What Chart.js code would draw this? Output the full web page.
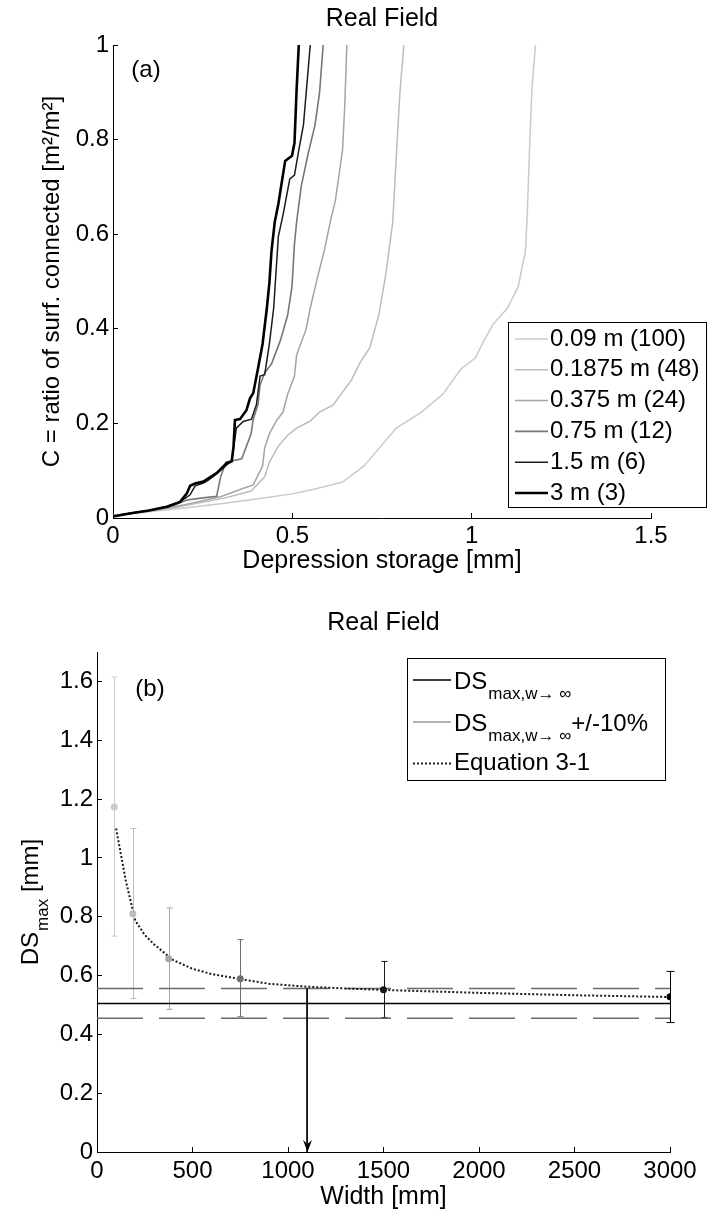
<!DOCTYPE html>
<html>
<head>
<meta charset="utf-8">
<script src="https://cdn.jsdelivr.net/npm/chart.js@4.4.1/dist/chart.umd.min.js"></script>
<style>
  body { margin: 0; background: #fff; }
  #wrap { position: relative; width: 710px; height: 1213px; }
  #storage { position: absolute; left: 0; top: 0; }
  #widthPlot { position: absolute; left: 0; top: 590px; }
</style>
</head>
<body>
<div id="wrap">
  <canvas id="storage" width="710" height="590"></canvas>
  <canvas id="widthPlot" width="710" height="623"></canvas>
</div>
<script>
// ---- panel (a): connected ratio vs depression storage, one curve per cell width ----
const seriesLabels = ['0.09 m (100)', '0.1875 m (48)', '0.375 m (24)', '0.75 m (12)', '1.5 m (6)', '3 m (3)'];
const seriesColors = ['#cacaca', '#bcbcbc', '#a4a4a4', '#777777', '#1c1c1c', '#000000'];
const seriesWidths = [1.5, 1.5, 1.5, 1.6, 1.5, 2.6];

const ds009 = [0, 0.10, 0.20, 0.30, 0.40, 0.50, 0.56, 0.64, 0.70, 0.73, 0.79, 0.86, 0.92, 0.97, 1.01, 1.035, 1.06, 1.10, 1.13, 1.15, 1.155, 1.162, 1.168, 1.178];
const c009  = [0.005, 0.013, 0.021, 0.030, 0.040, 0.051, 0.061, 0.076, 0.11, 0.137, 0.19, 0.224, 0.262, 0.315, 0.338, 0.376, 0.41, 0.444, 0.489, 0.565, 0.641, 0.793, 0.907, 1.0];

const ds01875 = [0, 0.10, 0.18, 0.31, 0.385, 0.423, 0.436, 0.461, 0.487, 0.512, 0.55, 0.576, 0.614, 0.64, 0.665, 0.69, 0.716, 0.741, 0.76, 0.78, 0.792, 0.80, 0.811];
const c01875  = [0.005, 0.014, 0.023, 0.042, 0.057, 0.087, 0.118, 0.152, 0.175, 0.19, 0.205, 0.224, 0.239, 0.266, 0.292, 0.33, 0.36, 0.429, 0.512, 0.626, 0.793, 0.9, 1.0];

const ds0375 = [0, 0.10, 0.20, 0.30, 0.36, 0.391, 0.404, 0.417, 0.423, 0.436, 0.455, 0.474, 0.487, 0.506, 0.512, 0.538, 0.55, 0.569, 0.589, 0.608, 0.62, 0.64, 0.646, 0.652];
const c0375  = [0.005, 0.015, 0.028, 0.045, 0.062, 0.07, 0.09, 0.11, 0.148, 0.178, 0.205, 0.224, 0.262, 0.30, 0.345, 0.398, 0.444, 0.505, 0.565, 0.634, 0.671, 0.778, 0.869, 1.0];

const ds075 = [0, 0.10, 0.155, 0.206, 0.245, 0.289, 0.30, 0.315, 0.334, 0.359, 0.385, 0.391, 0.404, 0.41, 0.423, 0.442, 0.448, 0.467, 0.487, 0.499, 0.506, 0.512, 0.525, 0.544, 0.563, 0.576, 0.586];
const c075  = [0.005, 0.016, 0.023, 0.038, 0.042, 0.046, 0.087, 0.118, 0.121, 0.125, 0.178, 0.209, 0.239, 0.281, 0.307, 0.326, 0.338, 0.376, 0.429, 0.489, 0.58, 0.626, 0.702, 0.77, 0.83, 0.9, 1.0];

const ds15 = [0, 0.05, 0.10, 0.15, 0.187, 0.215, 0.229, 0.252, 0.266, 0.289, 0.317, 0.331, 0.344, 0.363, 0.386, 0.40, 0.41, 0.423, 0.436, 0.448, 0.461, 0.474, 0.493, 0.506, 0.518, 0.531, 0.55];
const c15  = [0.003, 0.010, 0.016, 0.024, 0.034, 0.049, 0.068, 0.074, 0.08, 0.093, 0.112, 0.12, 0.19, 0.204, 0.209, 0.24, 0.3, 0.303, 0.368, 0.444, 0.595, 0.641, 0.717, 0.725, 0.778, 0.831, 1.0];

const ds3 = [0, 0.05, 0.10, 0.15, 0.187, 0.206, 0.215, 0.229, 0.252, 0.266, 0.289, 0.317, 0.331, 0.336, 0.340, 0.354, 0.372, 0.382, 0.391, 0.404, 0.417, 0.429, 0.436, 0.442, 0.451, 0.461, 0.48, 0.499, 0.506, 0.512, 0.518];
const c3  = [0.003, 0.010, 0.016, 0.024, 0.034, 0.052, 0.068, 0.073, 0.077, 0.084, 0.095, 0.116, 0.12, 0.151, 0.207, 0.209, 0.228, 0.253, 0.264, 0.315, 0.368, 0.444, 0.497, 0.565, 0.626, 0.664, 0.755, 0.766, 0.793, 0.907, 1.0];

const seriesDs = [ds009, ds01875, ds0375, ds075, ds15, ds3];
const seriesC = [c009, c01875, c0375, c075, c15, c3];

const storageTicksX = [0, 0.5, 1, 1.5];
const storageTicksY = [0, 0.2, 0.4, 0.6, 0.8, 1];

// ---- panel (b): DSmax vs domain width ----
const widthMm = [90, 187.5, 375, 750, 1500, 3000];
const dsMax   = [1.173, 0.810, 0.657, 0.589, 0.552, 0.528];
const dsLow   = [0.734, 0.522, 0.485, 0.460, 0.457, 0.440];
const dsHigh  = [1.615, 1.100, 0.830, 0.722, 0.648, 0.614];
const pointColors = ['#cbcbcb', '#bdbdbd', '#a6a6a6', '#6e6e6e', '#1a1a1a', '#000000'];

const dsInf = 0.505;
const dsInfBand = [0.455, 0.556];

const eqWidth = [100, 150, 200, 250, 300, 400, 500, 600, 750, 900, 1100, 1300, 1500, 2000, 2500, 3000];
const eqDs    = [1.100, 0.925, 0.787, 0.738, 0.705, 0.652, 0.623, 0.605, 0.588, 0.572, 0.562, 0.556, 0.551, 0.541, 0.533, 0.527];

const arrowWidth = 1100;

const widthTicksX = [0, 500, 1000, 1500, 2000, 2500, 3000];
const widthTicksY = [0, 0.2, 0.4, 0.6, 0.8, 1, 1.2, 1.4, 1.6];

const FAMILY = '"Liberation Sans", Arial, sans-serif';
Chart.defaults.font.family = FAMILY;
Chart.defaults.font.size = 24;
Chart.defaults.color = '#000';

const FONT = '24px ' + FAMILY;
const TITLEFONT = '25px ' + FAMILY;
const SUBFONT = '17px ' + FAMILY;

function fmt(v) { return String(+v.toFixed(2)); }

function axisBase(min, max, step, padding) {
  return {
    type: 'linear', min, max,
    ticks: { stepSize: step, padding, includeBounds: false, callback: fmt, font: { size: 24 } },
    grid: { drawOnChartArea: false, tickLength: -5, color: '#000', lineWidth: 1 },
    border: { color: '#000', width: 1 }
  };
}

function legendBox(ctx, box) {
  ctx.save();
  ctx.fillStyle = '#fff';
  ctx.fillRect(box.l, box.t, box.r - box.l, box.b - box.t);
  ctx.strokeStyle = '#000';
  ctx.lineWidth = 1;
  ctx.strokeRect(box.l + 0.5, box.t + 0.5, box.r - box.l, box.b - box.t);
  ctx.restore();
}

function sampleLine(ctx, x1, x2, y, color, width, dash) {
  ctx.save();
  ctx.strokeStyle = color;
  ctx.lineWidth = width;
  ctx.setLineDash(dash || []);
  ctx.beginPath();
  ctx.moveTo(x1, y);
  ctx.lineTo(x2, y);
  ctx.stroke();
  ctx.restore();
}

// titles, panel tag and legend for (a)
const storageDecor = {
  id: 'storageDecor',
  afterDraw(chart) {
    const { ctx, chartArea } = chart;
    ctx.save();
    ctx.fillStyle = '#000';
    ctx.textAlign = 'center';
    ctx.textBaseline = 'middle';
    ctx.font = TITLEFONT;
    ctx.fillText('Real Field', (chartArea.left + chartArea.right) / 2, 19);
    ctx.font = FONT;
    ctx.fillText('(a)', 146, 70);

    const box = { l: 508, t: 322, r: 706, b: 507 };
    legendBox(ctx, box);
    ctx.textAlign = 'left';
    seriesLabels.forEach((label, i) => {
      const y = 339 + i * 30.8;
      sampleLine(ctx, 515, 548, y, seriesColors[i], seriesWidths[i]);
      ctx.fillStyle = '#000';
      ctx.font = FONT;
      ctx.fillText(label, 550, y);
    });
    ctx.restore();
  }
};

new Chart(document.getElementById('storage'), {
  type: 'scatter',
  data: {
    datasets: seriesLabels.map((label, i) => ({
      label,
      data: seriesDs[i].map((x, k) => ({ x, y: seriesC[i][k] })),
      showLine: true,
      borderColor: seriesColors[i],
      backgroundColor: seriesColors[i],
      borderWidth: seriesWidths[i],
      pointRadius: 0,
      tension: 0,
      order: seriesLabels.length - i
    }))
  },
  options: {
    responsive: false,
    animation: false,
    events: [],
    layout: { padding: { left: 0, top: 45, right: 59, bottom: 0 } },
    plugins: { legend: { display: false }, tooltip: { enabled: false } },
    scales: {
      x: Object.assign(axisBase(storageTicksX[0], storageTicksX[storageTicksX.length - 1], 0.5, 9), {
        title: { display: true, text: 'Depression storage [mm]', font: { size: 25 }, padding: { top: 0, bottom: 14 } },
        afterFit(s) { s.height = 72; }
      }),
      y: Object.assign(axisBase(storageTicksY[0], storageTicksY[storageTicksY.length - 1], 0.2, 9), {
        title: { display: true, text: 'C = ratio of surf. connected [m²/m²]', font: { size: 24 }, padding: { top: 37.6, bottom: 0 } },
        afterFit(s) { s.width = 113; }
      })
    }
  },
  plugins: [storageDecor]
});

// draws "DS" with a "max..." subscript and an optional trailing text
function drawDS(ctx, x, y, sub, tail) {
  ctx.font = FONT;
  ctx.textAlign = 'left';
  ctx.textBaseline = 'alphabetic';
  ctx.fillText('DS', x, y);
  let cx = x + ctx.measureText('DS').width + 1;
  ctx.font = SUBFONT;
  ctx.fillText(sub, cx, y + 10);
  cx += ctx.measureText(sub).width;
  if (tail) {
    ctx.font = FONT;
    ctx.fillText(tail, cx, y);
  }
}

// error bars under the markers, arrowhead, titles and legend for (b)
const widthDecor = {
  id: 'widthDecor',
  beforeDatasetsDraw(chart) {
    const { ctx, scales: { x, y } } = chart;
    ctx.save();
    ctx.lineWidth = 1;
    widthMm.forEach((w, i) => {
      const px = Math.round(x.getPixelForValue(w)) + 0.5;
      const yl = y.getPixelForValue(dsLow[i]);
      const yh = y.getPixelForValue(dsHigh[i]);
      const cap = i === widthMm.length - 1 ? 4 : 3;
      ctx.strokeStyle = pointColors[i];
      ctx.beginPath();
      ctx.moveTo(px, yl); ctx.lineTo(px, yh);
      ctx.moveTo(px - cap, yl); ctx.lineTo(px + cap, yl);
      ctx.moveTo(px - cap, yh); ctx.lineTo(px + cap, yh);
      ctx.stroke();
    });
    ctx.restore();
  },
  afterDatasetsDraw(chart) {
    const { ctx, scales: { x, y } } = chart;
    const ax = Math.round(x.getPixelForValue(arrowWidth)) + 0.5;
    const ay = y.getPixelForValue(0);
    ctx.save();
    ctx.fillStyle = '#000';
    ctx.beginPath();
    ctx.moveTo(ax, ay);
    ctx.lineTo(ax - 4.5, ay - 12);
    ctx.lineTo(ax, ay - 8);
    ctx.lineTo(ax + 4.5, ay - 12);
    ctx.closePath();
    ctx.fill();
    ctx.restore();
  },
  afterDraw(chart) {
    const { ctx, chartArea } = chart;
    ctx.save();
    ctx.fillStyle = '#000';
    ctx.textAlign = 'center';
    ctx.textBaseline = 'middle';
    ctx.font = TITLEFONT;
    ctx.fillText('Real Field', (chartArea.left + chartArea.right) / 2, 33);
    ctx.font = FONT;
    ctx.fillText('(b)', 150, 99);

    // rotated y-axis title with subscript
    ctx.save();
    ctx.translate(38, (chartArea.top + chartArea.bottom) / 2);
    ctx.rotate(-Math.PI / 2);
    ctx.font = FONT;
    const wDS = ctx.measureText('DS').width;
    const wTail = ctx.measureText(' [mm]').width;
    ctx.font = SUBFONT;
    const wSub = ctx.measureText('max').width;
    drawDS(ctx, -(wDS + 1 + wSub + wTail) / 2, 0, 'max', ' [mm]');
    ctx.restore();

    const box = { l: 407, t: 68, r: 665, b: 190 };
    legendBox(ctx, box);
    ctx.fillStyle = '#000';
    sampleLine(ctx, 413, 451, 90, '#000', 1.5);
    drawDS(ctx, 454, 98.5, 'max,w\u2192 \u221e');
    sampleLine(ctx, 413, 451, 132, '#6a6a6a', 1.2);
    drawDS(ctx, 454, 140.5, 'max,w\u2192 \u221e', '+/-10%');
    sampleLine(ctx, 413, 451, 173.5, '#222', 2, [2, 2]);
    ctx.font = FONT;
    ctx.textAlign = 'left';
    ctx.textBaseline = 'middle';
    ctx.fillText('Equation 3-1', 454, 173.5);
    ctx.restore();
  }
};

const toPts = (xs, ys) => xs.map((v, k) => ({ x: v, y: ys[k] }));

new Chart(document.getElementById('widthPlot'), {
  type: 'scatter',
  data: {
    datasets: [
      {
        label: 'DSmax',
        data: toPts(widthMm, dsMax),
        pointRadius: 3.5,
        pointBackgroundColor: pointColors,
        pointBorderColor: pointColors,
        pointBorderWidth: 0,
        showLine: false,
        order: 1
      },
      {
        label: 'Equation 3-1',
        data: toPts(eqWidth, eqDs),
        showLine: true,
        borderColor: '#1a1a1a',
        borderWidth: 2,
        borderDash: [2, 2],
        pointRadius: 0,
        order: 2
      },
      {
        label: 'arrow',
        data: [{ x: arrowWidth, y: dsInfBand[1] }, { x: arrowWidth, y: 0 }],
        showLine: true,
        borderColor: '#000',
        borderWidth: 1,
        pointRadius: 0,
        order: 3
      },
      {
        label: 'DSmax,w→∞',
        data: [{ x: 0, y: dsInf }, { x: 3000, y: dsInf }],
        showLine: true,
        borderColor: '#000',
        borderWidth: 1.5,
        pointRadius: 0,
        order: 4
      },
      {
        label: 'DSmax,w→∞ +10%',
        data: [{ x: 0, y: dsInfBand[1] }, { x: 3000, y: dsInfBand[1] }],
        showLine: true,
        borderColor: '#6a6a6a',
        borderWidth: 1.5,
        borderDash: [46, 16],
        pointRadius: 0,
        order: 5
      },
      {
        label: 'DSmax,w→∞ -10%',
        data: [{ x: 0, y: dsInfBand[0] }, { x: 3000, y: dsInfBand[0] }],
        showLine: true,
        borderColor: '#6a6a6a',
        borderWidth: 1.5,
        borderDash: [46, 16],
        pointRadius: 0,
        order: 6
      }
    ]
  },
  options: {
    responsive: false,
    animation: false,
    events: [],
    layout: { padding: { left: 0, top: 62, right: 40, bottom: 0 } },
    plugins: { legend: { display: false }, tooltip: { enabled: false } },
    scales: {
      x: Object.assign(axisBase(widthTicksX[0], widthTicksX[widthTicksX.length - 1], 500, 9.9), {
        title: { display: true, text: 'Width [mm]', font: { size: 25 }, padding: { top: 0, bottom: 1 } },
        afterFit(s) { s.height = 61; }
      }),
      y: Object.assign(axisBase(0, 1.7, 0.2, 9), {
        title: { display: false },
        afterFit(s) { s.width = 97; }
      })
    }
  },
  plugins: [widthDecor]
});
</script>
</body>
</html>
